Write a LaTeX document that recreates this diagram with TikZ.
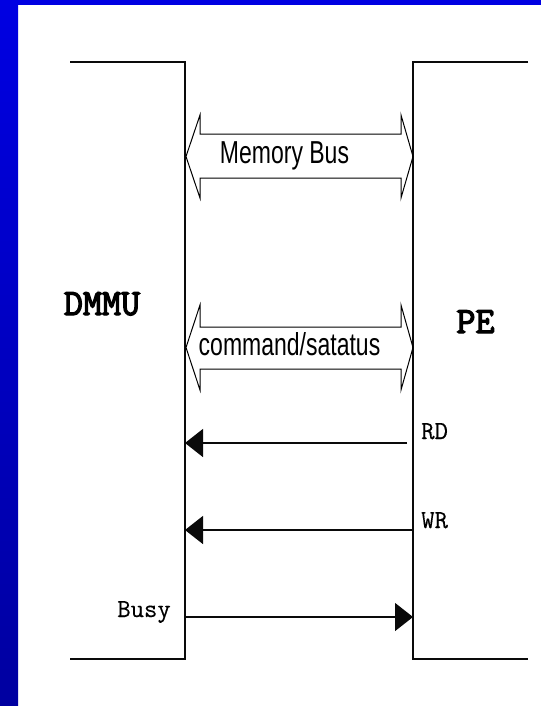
\documentclass[tikz,border=0pt]{standalone}
\usepackage{fontspec}
\usetikzlibrary{arrows.meta}
\newfontfamily\labsans{Liberation Sans}
\newfontfamily\unitmono[FakeBold=3.5]{Latin Modern Mono}
\newfontfamily\sigmono[FakeBold=0.3]{Latin Modern Mono}
\newcommand\vstretch[1]{\scalebox{1}[1.38]{#1}}
\definecolor{slideblue}{RGB}{0,0,226}
\definecolor{slideblueDark}{RGB}{0,0,160}
\definecolor{inkline}{RGB}{10,10,10}
\tikzset{
  bracket/.style={line width=2pt, draw=inkline},
  busarrow/.style={line width=1pt, draw=black, line join=miter},
  bustext/.style={inner sep=0pt, anchor=base, font=\labsans\fontsize{23}{26}\selectfont, text=black},
  monolab/.style={inner sep=0pt, font=\sigmono\fontsize{26}{28}\selectfont, text=black},
  unitlab/.style={inner sep=0pt, anchor=base, font=\unitmono\fontsize{37}{40}\selectfont, text=black},
  sig/.style={line width=1.3pt, draw=inkline, -{Triangle[length=18pt,width=28pt]}}
}
\begin{document}
\begin{tikzpicture}[x=1pt,y=-1pt]
\useasboundingbox (0,0) rectangle (541,706);
\fill[white] (0,0) rectangle (541,706);
% slide frame
\fill[slideblue] (0,0) rectangle (541,5);
\shade[top color=slideblue, bottom color=slideblueDark] (0,0) rectangle (18,706);

% DMMU and PE brackets
\draw[bracket] (70,62) -- (185,62) -- (185,659) -- (70,659);
\draw[bracket] (528,62) -- (413,62) -- (413,659) -- (528,659);

\node[unitlab] (dmmu) at (102,315) {DMMU};
\node[unitlab] (pe) at (475.5,333) {PE};

% Memory bus (hollow double arrow)
\draw[busarrow] (186,156.5) -- (200,115) -- (200,134) -- (401,134) -- (401,115)
  -- (413,156.5) -- (401,198) -- (401,178) -- (200,178) -- (200,198) -- cycle;
\node[bustext] (mem) at (284.5,163) {\vstretch{Memory Bus}};

% command/status bus
\draw[busarrow] (186,347.5) -- (200,305) -- (200,327) -- (401,327) -- (401,305)
  -- (413,347.5) -- (401,390) -- (401,369) -- (200,369) -- (200,390) -- cycle;
\node[bustext] (cmd) at (289.5,355) {\vstretch{command/satatus}};

% signals
\coordinate (rdR) at (407,443);
\coordinate (rdL) at (185,443);
\coordinate (wrR) at (413,530);
\coordinate (wrL) at (185,530);
\coordinate (busyL) at (185,617);
\coordinate (busyR) at (413,617);
\draw[sig] (rdR) -- (rdL);
\draw[sig] (wrR) -- (wrL);
\draw[sig] (busyL) -- (busyR);

\node[monolab, anchor=base west] (rd) at (421,439) {RD};
\node[monolab, anchor=base west] (wr) at (421,528) {WR};
\node[monolab, anchor=base east] (busy) at (171,617) {Busy};
\end{tikzpicture}
\end{document}
